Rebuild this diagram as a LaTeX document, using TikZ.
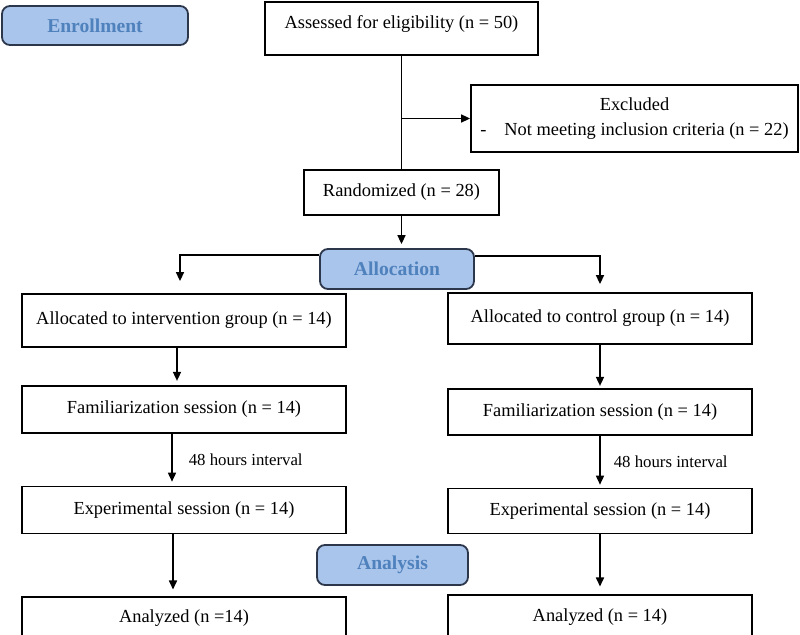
\documentclass[tikz,border=0pt]{standalone}
\usepackage{fontspec}
\setmainfont{Liberation Serif}
\usepackage{tikz}
\usetikzlibrary{
  arrows.meta,
  positioning
}
\definecolor{headfill}{RGB}{169,197,235}
\definecolor{headtext}{RGB}{79,129,189}
\definecolor{headdraw}{RGB}{45,55,75}

\begin{document}
\begin{tikzpicture}[
  x=1pt, y=1pt,
  box/.style={draw, line width=0.9pt, inner sep=0pt, align=center,
              font=\fontsize{9.2}{12.5}\selectfont},
  leftbox/.style={box, minimum width=162pt},
  rightbox/.style={box, minimum width=152pt},
  head/.style={draw=headdraw, fill=headfill, rounded corners=4pt, line width=0.9pt,
               inner sep=0pt, text=headtext, font=\fontsize{9.8}{12}\selectfont\bfseries},
  gap/.style={inner sep=0pt, font=\fontsize{8.4}{10}\selectfont},
  arr/.style={-{Triangle[length=4.5pt,width=4pt]}, line width=0.8pt}
]
\useasboundingbox (0,0) rectangle (400,-317.5);

% Enrollment
\node[head, minimum width=93pt, minimum height=19.5pt] at (47.5,-12.75) (enroll) {Enrollment};
\node[box, minimum width=136.5pt, text height=13.5pt, text depth=13pt] at (200.75,-14.25) (assess) {Assessed for eligibility (n = 50)};
\node[box, minimum width=163.5pt, minimum height=33.5pt] at (317.25,-59.25) (excl) {Excluded\\-\hspace{9pt}Not meeting inclusion criteria (n = 22)};
\node[box, minimum width=97.5pt, minimum height=22.5pt] at (200.75,-96.25) (rand) {Randomized (n = 28)};

% Allocation
\node[head, minimum width=77pt, minimum height=20pt] at (198.5,-134.5) (alloc) {Allocation};

\node[leftbox, minimum height=26.5pt] at (92,-160.25) (intv) {Allocated to intervention group (n = 14)};
\node[leftbox, minimum height=23.5pt, below=18.5pt of intv] (fam1) {Familiarization session (n = 14)};
\node[leftbox, minimum height=23.5pt, below=26pt of fam1] (exp1) {Experimental session (n = 14)};
\node[leftbox, minimum height=20.5pt, below=31pt of exp1] (ana1) {Analyzed (n =14)};

\node[rightbox, minimum height=25.5pt] at (300,-159.25) (ctrl) {Allocated to control group (n = 14)};
\node[rightbox, minimum height=23pt, below=21.5pt of ctrl] (fam2) {Familiarization session (n = 14)};
\node[rightbox, minimum height=22.5pt, below=26pt of fam2] (exp2) {Experimental session (n = 14)};
\node[rightbox, minimum height=21.5pt, below=30pt of exp2] (ana2) {Analyzed (n = 14)};

% Analysis
\node[head, minimum width=75.5pt, minimum height=20pt] at (196.25,-282.5) (analysis) {Analysis};

\draw[line width=0.8pt] (assess) -- (rand);
\draw[arr] (assess.south |- excl.west) -- (excl.west);
\draw[arr, shorten >=2pt] (rand) -- (rand.south |- alloc.north);
\draw[arr, shorten >=6pt] ([yshift=-3.5pt]alloc.north west) -| ([xshift=-2pt]intv.north);
\draw[arr, shorten >=4pt] ([yshift=-4pt]alloc.north east) -| (ctrl.north);

\draw[arr, shorten >=2pt] ([xshift=-3.5pt]intv.south) -- ([xshift=-3.5pt]intv.south |- fam1.north);
\draw[arr, shorten >=2pt] ([xshift=-6pt]fam1.south) -- ([xshift=-6pt]fam1.south |- exp1.north)
  node[gap, midway, right=8pt] {48 hours interval};
\draw[arr, shorten >=3.5pt] ([xshift=-5.5pt]exp1.south) -- ([xshift=-5.5pt]exp1.south |- ana1.north);

\draw[arr, shorten >=1pt] (ctrl) -- (ctrl.south |- fam2.north);
\draw[arr, shorten >=1.5pt] (fam2) -- (fam2.south |- exp2.north)
  node[gap, midway, right=6.5pt] {48 hours interval};
\draw[arr, shorten >=4pt] (exp2) -- (exp2.south |- ana2.north);

\end{tikzpicture}
\end{document}
